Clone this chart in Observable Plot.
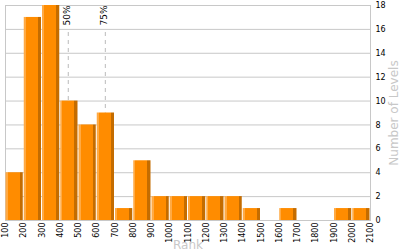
<!DOCTYPE html>
<html><head><meta charset="utf-8">
<script src="https://cdn.jsdelivr.net/npm/d3@7"></script>
<script src="https://cdn.jsdelivr.net/npm/@observablehq/plot@0.6"></script>
<style>
body{margin:0;background:#fff}
svg{font-family:"DejaVu Sans",Verdana,sans-serif}
g[aria-label="x-axis label"] text, g[aria-label="y-axis label"] text{fill:#c8c8c8;font-size:12px}
</style></head><body><div id="chart"></div>
<script>
const binStarts=[100,200,300,400,500,600,700,800,900,1000,1100,1200,1300,1400,1500,1600,1700,1800,1900,2000];
const binWidth=100;
const counts=[4,17,18,10,8,9,1,5,2,2,2,2,2,1,0,1,0,0,1,1];
const xTicks=[100,200,300,400,500,600,700,800,900,1000,1100,1200,1300,1400,1500,1600,1700,1800,1900,2000,2100];
const yTicks=[0,2,4,6,8,10,12,14,16,18];
const percentileLabels=["50%","75%"];
const percentileRanks=[444,647];
const percentileCounts=[10,9];

const bins=binStarts.map((s,i)=>({x1:s,x2:s+binWidth,count:counts[i]})).filter(d=>d.count>0);
const pct=percentileLabels.map((l,i)=>({label:l,rank:percentileRanks[i],count:percentileCounts[i]}));

const svg=Plot.plot({
  width:400,height:250,marginLeft:5,marginRight:30,marginTop:5,marginBottom:30,
  style:{fontFamily:"DejaVu Sans, Verdana, sans-serif",fontSize:"8px",background:"#fff"},
  x:{domain:[100,2100]},
  y:{domain:[0,18]},
  marks:[
    Plot.gridY(yTicks,{stroke:"#c8c8c8",strokeOpacity:1}),
    Plot.frame({stroke:"#c8c8c8"}),
    Plot.ruleX(pct,{x:"rank",y1:18,y2:"count",stroke:"#bbbbbb",strokeDasharray:"4,4",insetTop:27}),
    Plot.rectY(bins,{x1:"x1",x2:"x2",y:"count",fill:"url(#barGrad)",insetLeft:0.5,insetRight:0.5}),
    Plot.text(pct,{x:"rank",text:"label",frameAnchor:"top",rotate:-90,textAnchor:"end",lineAnchor:"middle",dx:-1,fill:"#000",fontSize:9}),
    Plot.axisX(xTicks,{tickRotate:-90,tickSize:0,tickPadding:2,tickFormat:"d",label:"Rank",labelAnchor:"center",labelOffset:28,labelArrow:"none",fill:"#000"}),
    Plot.axisY(yTicks,{anchor:"right",tickSize:0,tickPadding:5,tickFormat:"d",label:"Number of Levels",labelAnchor:"center",labelOffset:27,labelArrow:"none",fill:"#000"})
  ]
});
const ns="http://www.w3.org/2000/svg";
const defs=document.createElementNS(ns,"defs");
defs.innerHTML='<linearGradient id="barGrad" x1="0" x2="1" y1="0" y2="0">'+
 '<stop offset="0" stop-color="#ffaa44"/><stop offset="0.12" stop-color="#ffaa44"/>'+
 '<stop offset="0.12" stop-color="#ff8c00"/><stop offset="0.82" stop-color="#ff8c00"/>'+
 '<stop offset="0.82" stop-color="#c46c00"/><stop offset="1" stop-color="#c46c00"/></linearGradient>';
svg.insertBefore(defs,svg.firstChild);
document.getElementById("chart").appendChild(svg);
</script></body></html>
